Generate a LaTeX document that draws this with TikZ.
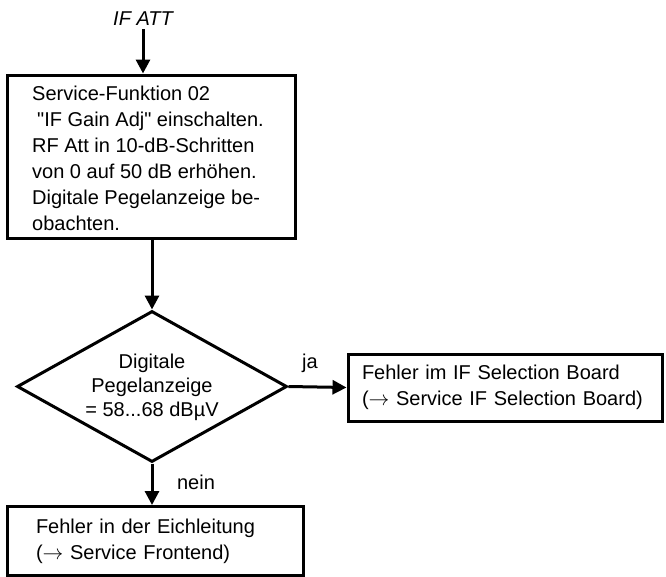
\documentclass[tikz,border=0pt]{standalone}
\usepackage{fontspec}
\newfontfamily\lsans{Liberation Sans}
\usetikzlibrary{shapes.geometric,arrows.meta}
\begin{document}
\begin{tikzpicture}[x=1pt,y=-1pt,
  every node/.style={font=\lsans\fontsize{20}{26}\selectfont},
  box/.style={draw, line width=3pt, rectangle, inner sep=0pt},
  flow/.style={line width=3pt, -{Triangle[length=14pt,width=14pt]}},
  lbl/.style={inner sep=0pt}
]
\useasboundingbox (0,0) rectangle (666,576);
% start
\node[font=\lsans\itshape\fontsize{20}{26}\selectfont] (in) at (143,19) {IF ATT};
% box 1
\node[box, minimum width=287.5pt, minimum height=163pt] (b1) at (151.25,156.5) {};
\node[lbl, anchor=north west, align=left] (t1) at (32,86)
  {Service-Funktion 02\\ \hspace*{5pt}"IF Gain Adj" einschalten.\\RF Att in 10-dB-Schritten\\von 0 auf 50 dB erh\"ohen.\\Digitale Pegelanzeige be-\\obachten.};
% decision
\node[draw, diamond, line width=3pt, minimum width=270pt, minimum height=151pt, inner sep=0pt] (d) at (152,386.5) {};
\node[lbl, align=center, font=\lsans\fontsize{20}{24}\selectfont] (dt) at (152,387) {Digitale\\Pegelanzeige\\= 58...68 dBµV};
% box 2
\node[box, minimum width=314pt, minimum height=67pt, text width=286pt, align=left] (b2) at (505,387.5)
  {Fehler im IF Selection Board\\($\rightarrow$ Service IF Selection Board)};
% box 3
\node[box, anchor=north, minimum width=296pt, text width=238pt, align=left, inner ysep=12pt] (b3) at (155,505)
  {Fehler in der Eichleitung\\($\rightarrow$ Service Frontend)};
% labels
\node[lbl] (ja) at (310,363) {ja};
\node[lbl] (nein) at (196,482) {nein};
% connectors
\draw[flow] (in) -- (in |- b1.north);
\draw[flow] (b1.south -| d.north) -- (d.north);
\draw[flow] (d.east) -- (b2.west);
\draw[flow] (d.south) -- (d.south |- b3.north);
\end{tikzpicture}
\end{document}
